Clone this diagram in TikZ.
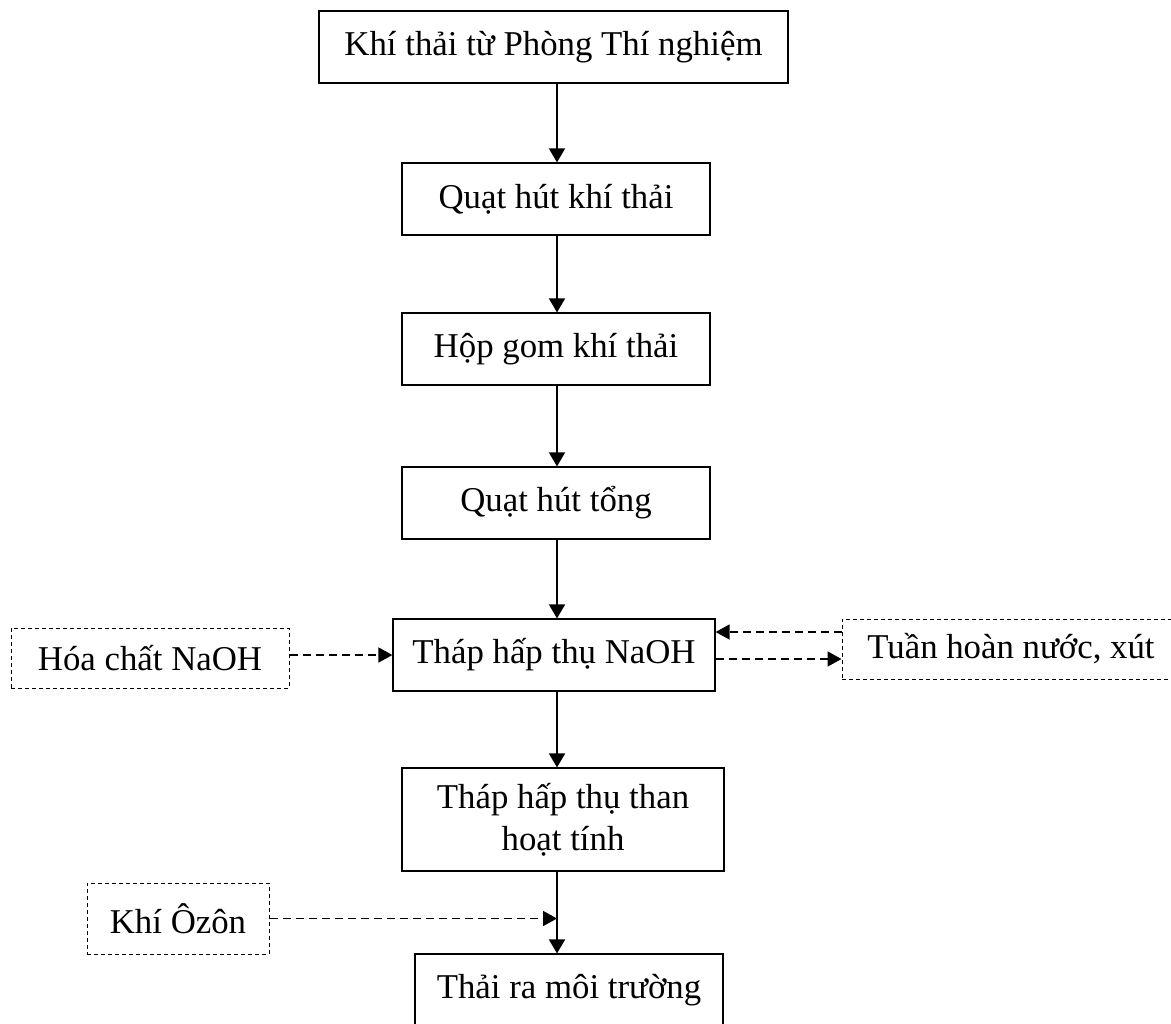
\documentclass[tikz,border=0pt]{standalone}
\usepackage{fontspec}
\setmainfont{Liberation Serif}
\usetikzlibrary{arrows.meta}
\begin{document}
\begin{tikzpicture}[x=0.5pt,y=-0.5pt,
  every node/.style={font=\fontsize{17.4}{21}\selectfont, inner sep=0pt, align=center},
  proc/.style={draw, line width=0.6pt},
  aux/.style={draw, line width=0.5pt, dash pattern=on 2pt off 1.5pt},
  flow/.style={line width=0.9pt, -{Triangle[length=7pt,width=8pt]}},
  dflow/.style={line width=0.8pt, dash pattern=on 4pt off 2.5pt, -{Triangle[length=7pt,width=7.5pt]}}]
\useasboundingbox (0,0) rectangle (1171,1023);
\clip (0,0) rectangle (1171,1023);
\coordinate (col) at (557,0);
\node[proc, minimum width=234.5pt, minimum height=36pt] (b1) at (553.5,47) {Khí thải từ Phòng Thí nghiệm};
\node[proc, minimum width=154pt, minimum height=36pt] (b2) at (556,199) {Quạt hút khí thải};
\node[proc, minimum width=154pt, minimum height=36pt] (b3) at (556,349) {Hộp gom khí thải};
\node[proc, minimum width=154pt, minimum height=36pt] (b4) at (556,503) {Quạt hút tổng};
\node[proc, minimum width=161pt, minimum height=36pt] (b5) at (554,655) {Tháp hấp thụ NaOH};
\node[proc, minimum width=161pt, minimum height=51.5pt] (b6) at (563,819.5) {Tháp hấp thụ than\\hoạt tính};
\node[proc, minimum width=154pt, minimum height=36pt] (b7) at (569,990) {Thải ra môi trường};
\node[aux, minimum width=139pt, minimum height=30pt] (hc) at (150,658) {Hóa chất NaOH};
\node[aux, minimum width=169pt, minimum height=30pt] (tu) at (1011,649) {Tuần hoàn nước, xút};
\node[aux, minimum width=91pt, minimum height=35.5pt] (oz) at (178,918.5) {Khí Ôzôn};

\draw[flow] (b1.south -| col) -- (b2.north -| col);
\draw[flow] (b2.south -| col) -- (b3.north -| col);
\draw[flow] (b3.south -| col) -- (b4.north -| col);
\draw[flow] (b4.south -| col) -- (b5.north -| col);
\draw[flow] (b5.south -| col) -- (b6.north -| col);
\draw[flow] (b6.south -| col) -- (b7.north -| col);

\draw[dflow] (hc.east |- b5.west) -- (b5.west);
\draw[dflow] (tu.west |- 0,632) -- (b5.east |- 0,632);
\draw[dflow] (b5.east |- 0,659) -- (tu.west |- 0,659);
\draw[dflow] (oz.east) -- (oz.east -| col);
\end{tikzpicture}
\end{document}
